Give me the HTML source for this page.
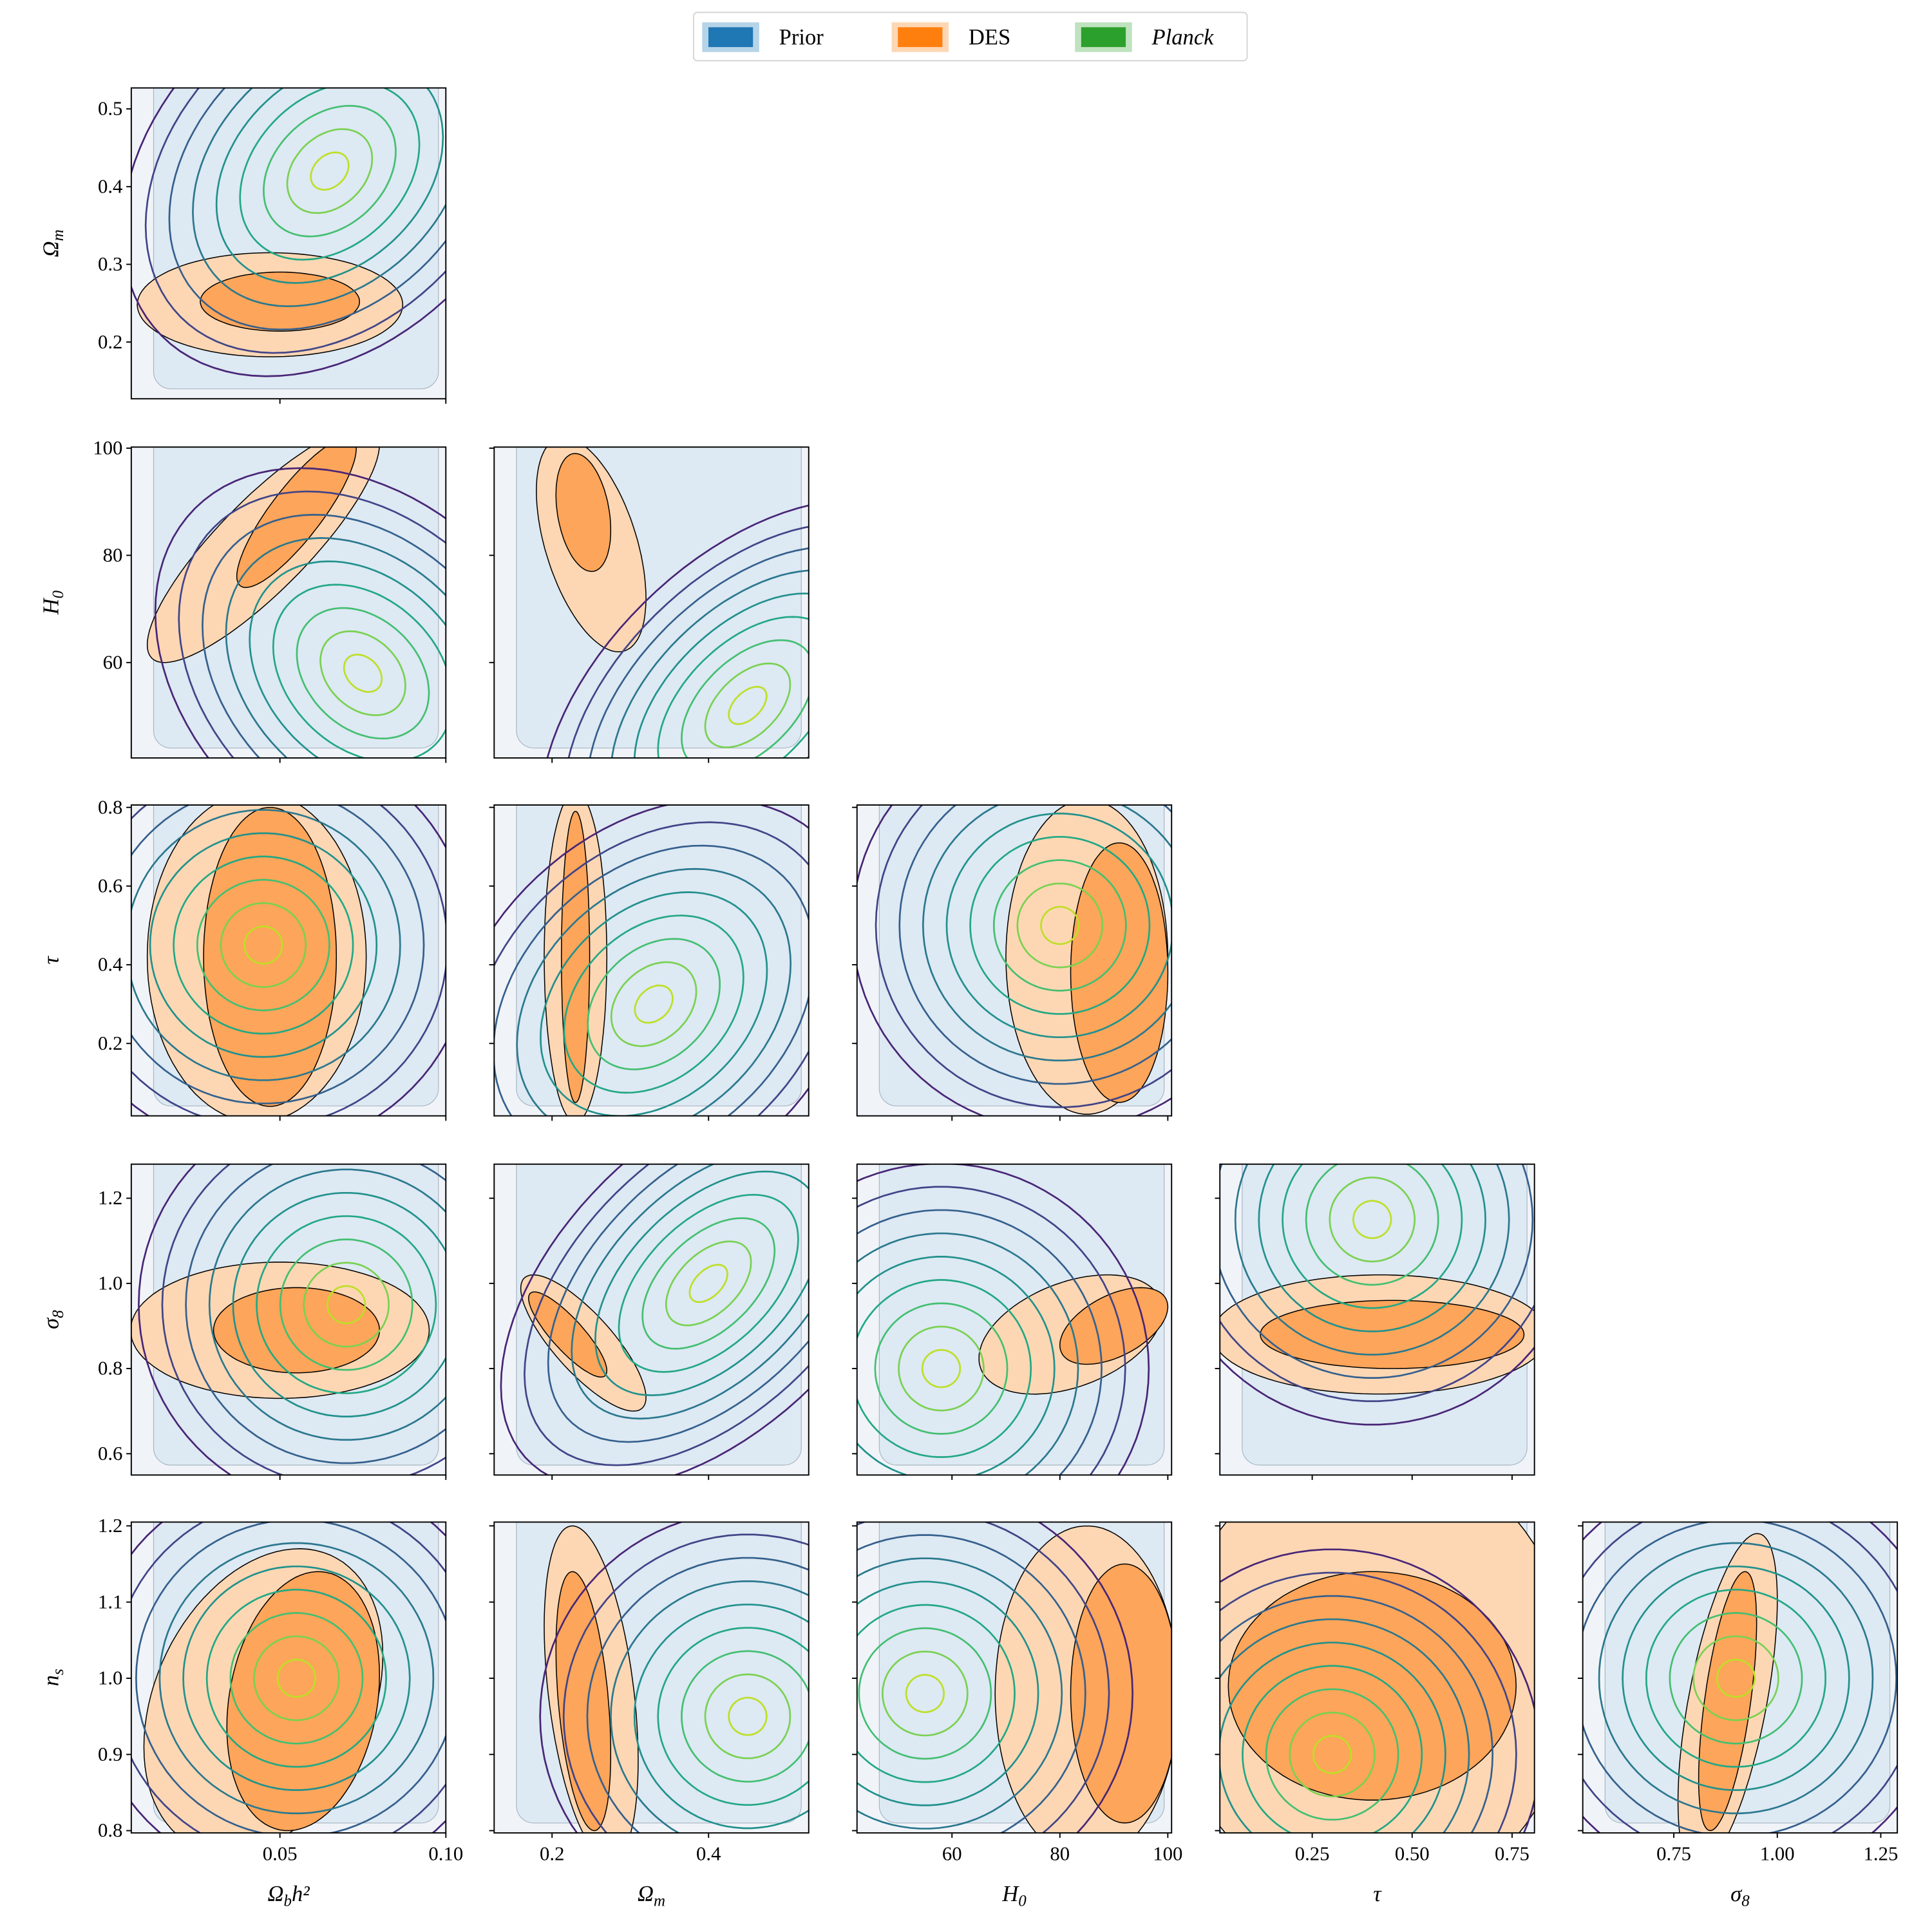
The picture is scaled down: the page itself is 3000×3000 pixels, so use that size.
<!DOCTYPE html>
<html><head><meta charset="utf-8">
<style>html,body{margin:0;padding:0;background:#fff}svg{display:block}text{font-family:"Liberation Serif",serif;fill:#000}</style>
</head><body>
<svg id="c" width="3000" height="3000" viewBox="0 0 1560 1560" xmlns="http://www.w3.org/2000/svg"></svg>
<script>
// ---- data ----
const paramNames = ["Ωbh²","Ωm","H0","τ","σ8","ns"];
const colRanges = [[0.0052,0.1],[0.126,0.528],[42.4,100.7],[0.019,0.806],[0.53,1.29]];
const rowRanges = [[0.127,0.527],[42.2,100.2],[0.016,0.806],[0.55,1.28],[0.797,1.205]];
const xTicks = [[0.05,0.10],[0.2,0.4],[60,80,100],[0.25,0.5,0.75],[0.75,1.0,1.25]];
const xTickLabels = [["0.05","0.10"],["0.2","0.4"],["60","80","100"],["0.25","0.50","0.75"],["0.75","1.00","1.25"]];
const yTicks = [[0.2,0.3,0.4,0.5],[60,80,100],[0.2,0.4,0.6,0.8],[0.6,0.8,1.0,1.2],[0.8,0.9,1.0,1.1,1.2]];
const yTickLabels = [["0.2","0.3","0.4","0.5"],["60","80","100"],["0.2","0.4","0.6","0.8"],["0.6","0.8","1.0","1.2"],["0.8","0.9","1.0","1.1","1.2"]];
const panels = [[0,0],[1,0],[1,1],[2,0],[2,1],[2,2],[3,0],[3,1],[3,2],[3,3],[4,0],[4,1],[4,2],[4,3],[4,4]];
// DES ellipses [cx, cy, rx, ry, rho] in data units
const desInner = [[0.05,0.252,0.024,0.038,0],[0.055,88,0.018,14,0.85],[0.24,88,0.035,11,-0.3],
 [0.047,0.42,0.02,0.38,0],[0.23,0.42,0.018,0.37,0],[91,0.38,9,0.33,0],
 [0.055,0.89,0.025,0.1,0],[0.22,0.88,0.05,0.1,-0.85],[90,0.9,10,0.09,0.5],[0.45,0.88,0.33,0.08,0],
 [0.057,0.97,0.023,0.17,0.2],[0.24,0.97,0.035,0.17,-0.4],[92,0.98,10,0.17,0],[0.4,0.99,0.36,0.15,0],[0.88,0.97,0.07,0.17,0.6]];
const desOuter = [[0.047,0.248,0.04,0.067,0],[0.045,82,0.035,22,0.85],[0.25,82,0.07,20,-0.5],
 [0.043,0.42,0.033,0.42,0],[0.23,0.42,0.04,0.42,0],[85,0.42,15,0.4,0],
 [0.05,0.89,0.045,0.16,0],[0.24,0.86,0.08,0.16,-0.8],[82,0.88,17,0.14,0.4],[0.42,0.88,0.42,0.14,0],
 [0.045,0.97,0.036,0.2,0.3],[0.25,0.98,0.06,0.22,-0.4],[85,0.98,17,0.22,0],[0.4,1.0,0.5,0.3,0],[0.88,0.97,0.12,0.22,0.6]];
// Planck contour centres [cx, cy, rho]
const planckCentre = [[0.065,0.42,0.3],[0.075,58,-0.3],[0.45,52,0.5],[0.045,0.45,0],[0.33,0.3,0.3],[80,0.5,0],
 [0.07,0.95,0],[0.4,1.0,0.5],[58,0.8,0],[0.4,1.15,0],[0.055,1.0,0],[0.45,0.95,0],[55,0.98,0],[0.3,0.9,0],[0.9,1.0,0]];
const viridis = ["#bddf26","#7ad151","#43bf71","#22a884","#21918c","#2a788e","#35608d","#414487","#482576"];

const colX = [106,399,692,985,1278], W = 254;
const rowY = [71,361,650,940,1229], H = 251;
const svg = document.getElementById('c');
const NS = "http://www.w3.org/2000/svg";
function mk(tag, attrs, parent){const e=document.createElementNS(NS,tag);for(const k in attrs)e.setAttribute(k,attrs[k]);(parent||svg).appendChild(e);return e;}

const lg = mk('g',{});


mk('rect',{x:560,y:10,width:447,height:39,rx:3,fill:'#fff',stroke:'#d6d6d6'},lg);
const legItems=[["Prior","#b6d4e8","#1f77b4",567],["DES","#fdd7b4","#ff7f0e",720],["Planck","#bfe2bf","#2ca02c",868]];
legItems.forEach(it=>{
  const g=mk('g',{},lg);
  
  
  mk('rect',{x:it[3],y:18,width:46,height:24,fill:it[1]},g);
  mk('rect',{x:it[3]+5,y:22,width:36,height:16,fill:it[2]},g);
  const t=mk('text',{x:it[3]+62,y:36,'font-size':18},g);
  if(it[0]==="Planck")t.setAttribute('font-style','italic');
  t.textContent=it[0];
});

function ellPath(e,sx,sy,scale){
  let d="";
  for(let i=0;i<=90;i++){const t=i/90*2*Math.PI;
    const x=e[0]+e[2]*scale*Math.cos(t);
    const y=e[1]+e[3]*scale*(e[4]*Math.cos(t)+Math.sqrt(1-e[4]*e[4])*Math.sin(t));
    d+=(i?"L":"M")+sx(x).toFixed(1)+","+sy(y).toFixed(1);}
  return d+"Z";
}

panels.forEach((p,idx)=>{
  const r=p[0], c=p[1], x0=colX[c], y0=rowY[r];
  const cr=colRanges[c], rr=rowRanges[r];
  const sx=v=>x0+(v-cr[0])/(cr[1]-cr[0])*W;
  const sy=v=>y0+H-(v-rr[0])/(rr[1]-rr[0])*H;
  const g=mk('g',{});
  
  
  const cid='clip'+idx;
  const cp=mk('clipPath',{id:cid},g);mk('rect',{x:x0,y:y0,width:W,height:H},cp);
  const inner=mk('g',{'clip-path':'url(#'+cid+')'},g);
  mk('rect',{x:x0,y:y0,width:W,height:H,fill:'#f0f4f9'},inner);
  const pr=mk('rect',{x:x0+18,y:y0-30,width:W-24,height:H+22,rx:14,fill:'#dde9f3',stroke:'#a8b4c0','stroke-width':0.6},inner);
  
  
  const o=mk('path',{d:ellPath(desOuter[idx],sx,sy,1),fill:'#fdd7b4',stroke:'#000','stroke-width':0.8},inner);
  
  
  const i2=mk('path',{d:ellPath(desInner[idx],sx,sy,1),fill:'#fda55a',stroke:'#000','stroke-width':0.8},inner);
  
  
  const pc=planckCentre[idx];
  const rx=(cr[1]-cr[0]), ry=(rr[1]-rr[0]);
  for(let k=0;k<viridis.length;k++){
    const s=0.06+k*0.075;
    const e=[pc[0],pc[1],rx,ry,pc[2]];
    const l=mk('path',{d:ellPath(e,sx,sy,s),fill:'none',stroke:viridis[k],'stroke-width':1.4},inner);
    
    
  }
  mk('rect',{x:x0,y:y0,width:W,height:H,fill:'none',stroke:'#000','stroke-width':1},g);
  xTicks[c].forEach((t,k)=>{const X=sx(t);mk('line',{x1:X,x2:X,y1:y0+H,y2:y0+H+4,stroke:'#000'},g);
    if(r===4){const tt=mk('text',{x:X,y:y0+H+22,'font-size':16,'text-anchor':'middle'},g);tt.textContent=xTickLabels[c][k];}});
  yTicks[r].forEach((t,k)=>{const Y=sy(t);mk('line',{x1:x0-4,x2:x0,y1:Y,y2:Y,stroke:'#000'},g);
    if(c===0){const tt=mk('text',{x:x0-7,y:Y+5,'font-size':16,'text-anchor':'end'},g);tt.textContent=yTickLabels[r][k];}});
});
const yl=[["Ω","m"],["H","0"],["τ",""],["σ","8"],["n","s"]];
yl.forEach((l,r)=>{const cy=rowY[r]+H/2;
  const t=mk('text',{x:0,y:0,'font-size':18,'font-style':'italic','text-anchor':'middle',transform:'translate(47,'+cy+') rotate(-90)'});
  
  
  t.innerHTML=l[0]+'<tspan font-size="13" dy="4">'+l[1]+'</tspan>';});
const xl=[["Ω","b","h²"],["Ω","m",""],["H","0",""],["τ","",""],["σ","8",""]];
xl.forEach((l,c)=>{const cx=colX[c]+W/2;
  const t=mk('text',{x:cx,y:1535,'font-size':18,'font-style':'italic','text-anchor':'middle'});
  
  
  t.innerHTML=l[0]+'<tspan font-size="13" dy="4">'+l[1]+'</tspan><tspan dy="-4">'+l[2]+'</tspan>';});
</script>
</body></html>
